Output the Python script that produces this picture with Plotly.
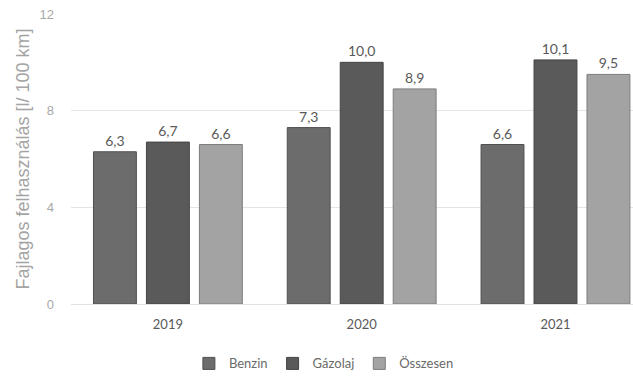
import plotly.graph_objects as go

# Specific fuel consumption per year and fuel type
years = ["2019", "2020", "2021"]
benzin = [6.3, 7.3, 6.6]
gazolaj = [6.7, 10.0, 10.1]
osszesen = [6.6, 8.9, 9.5]

series_names = ["Benzin", "Gázolaj", "Összesen"]
series_values = [benzin, gazolaj, osszesen]
series_colors = ["#6c6c6c", "#5a5a5a", "#a3a3a3"]
outline_colors = ["#505050", "#444444", "#7d7d7d"]

y_ticks = [0, 4, 8, 12]

fig = go.Figure()
for name, vals, col, lcol in zip(series_names, series_values, series_colors, outline_colors):
    fig.add_trace(go.Bar(
        name=name,
        x=years,
        y=vals,
        marker=dict(color=col, line=dict(color=lcol, width=1)),
        text=vals,
        texttemplate="%{y:.1f}",
        textposition="outside",
        cliponaxis=False,
        textfont=dict(family="Lato", size=14, color="#595959"),
    ))

fig.update_layout(
    width=633,
    height=379,
    margin=dict(l=71, r=0, t=14, b=73),
    paper_bgcolor="white",
    plot_bgcolor="white",
    separators=", ",
    barmode="group",
    bargap=0.18,
    bargroupgap=0.19,
    showlegend=True,
    legend=dict(
        orientation="h",
        x=0.45,
        xanchor="center",
        y=-0.205,
        yanchor="middle",
        font=dict(family="Lato", size=13, color="#6a6a6a"),
        itemwidth=30,
        tracegroupgap=0,
    ),
    xaxis=dict(
        type="category",
        range=[-0.5, 2.4],
        showgrid=False,
        showline=True,
        linecolor="#e2e2e2",
        linewidth=1,
        ticks="",
        tickfont=dict(family="Lato", size=13, color="#595959"),
        ticklabelstandoff=8,
    ),
    yaxis=dict(
        range=[0, 12],
        tickvals=y_ticks,
        showgrid=True,
        gridcolor="#e4e4e4",
        gridwidth=1,
        zeroline=False,
        showline=False,
        ticks="",
        tickfont=dict(family="Liberation Sans", size=13, color="#a8a8a8"),
        ticklabelstandoff=16,
        title=dict(
            text="Fajlagos felhasználás [l/ 100 km]",
            font=dict(family="Liberation Sans", size=18, color="#a4a4a4"),
            standoff=5,
        ),
    ),
)

fig.write_html("out.html")
